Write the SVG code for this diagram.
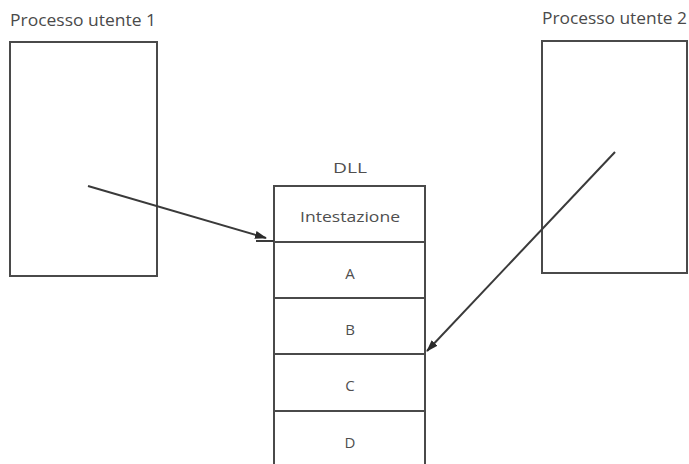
<svg xmlns="http://www.w3.org/2000/svg" width="689" height="464" viewBox="0 0 689 464">
<style>
.box{fill:#fff;stroke:#4a4a4a;stroke-width:2}
.lbl{font-family:"Open Sans","Liberation Sans",sans-serif;font-size:16px;fill:#4a4a4a}
.cell{font-family:"Open Sans","Liberation Sans",sans-serif;font-size:15px;fill:#4f4f4f;text-anchor:middle}
.conn{stroke:#3a3a3a;stroke-width:2;fill:none}
</style>
<defs>
<marker id="ah" viewBox="0 0 12 8" refX="11" refY="4" markerWidth="12" markerHeight="8" markerUnits="userSpaceOnUse" orient="auto">
<path d="M0,0 L12,4 L0,8 Z" fill="#2a2a2a"/>
</marker>
</defs>
<rect width="689" height="464" fill="#fff"/>
<g id="proc1">
<rect class="box" x="10" y="42" width="147" height="234"/>
<text class="lbl" x="10" y="26" textLength="146" lengthAdjust="spacingAndGlyphs">Processo utente 1</text>
</g>
<g id="proc2">
<rect class="box" x="542" y="41" width="145" height="232"/>
<text class="lbl" x="542" y="24" textLength="145" lengthAdjust="spacingAndGlyphs">Processo utente 2</text>
</g>
<g id="dll">
<text class="cell" x="350" y="173" textLength="34" lengthAdjust="spacingAndGlyphs">DLL</text>
<rect class="box" x="274" y="186" width="151" height="290"/>
<line class="box" x1="274" y1="242" x2="425" y2="242"/>
<line class="box" x1="274" y1="298" x2="425" y2="298"/>
<line class="box" x1="274" y1="354" x2="425" y2="354"/>
<line class="box" x1="274" y1="411" x2="425" y2="411"/>
<text class="cell" x="350" y="222" textLength="100" lengthAdjust="spacingAndGlyphs">Intestazione</text>
<text class="cell" x="350" y="279">A</text>
<text class="cell" x="350" y="335">B</text>
<text class="cell" x="350" y="391">C</text>
<text class="cell" x="350" y="448">D</text>
</g>
<g id="connectors">
<line class="conn" x1="88" y1="186" x2="266" y2="238" marker-end="url(#ah)"/>
<line class="conn" x1="256" y1="241" x2="274" y2="241" stroke-width="1.5"/>
<line class="conn" x1="615" y1="152" x2="427" y2="351" marker-end="url(#ah)"/>
</g>
</svg>
